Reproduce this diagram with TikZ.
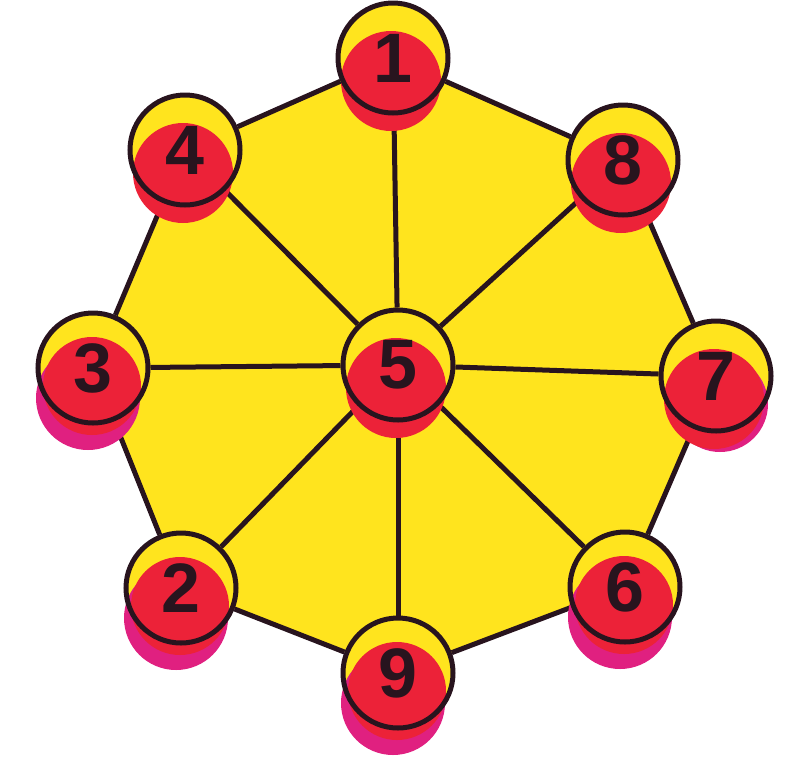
\documentclass[tikz,border=0pt]{standalone}
\usepackage{fontspec}
\setmainfont{Liberation Sans}
\pgfdeclarelayer{back}
\pgfdeclarelayer{mid}
\pgfsetlayers{back,mid,main}
\definecolor{yel}{RGB}{255,228,30}
\definecolor{rd}{RGB}{236,34,56}
\definecolor{mag}{RGB}{224,32,128}
\definecolor{ink}{RGB}{40,20,30}
\begin{document}
\begin{tikzpicture}[x=1pt,y=-1pt,
  ball/.style={circle,draw=ink,line width=5pt,minimum size=110pt,inner sep=0pt,
    font=\fontsize{70}{70}\selectfont\bfseries,text=ink},
  link/.style={draw=ink,line width=5pt}]
\useasboundingbox (0,0) rectangle (803,756);
\node[ball] (n1) at (393,58) {1};
\node[ball] (n8) at (623,160) {8};
\node[ball] (n7) at (716,376) {7};
\node[ball] (n6) at (625,587) {6};
\node[ball] (n9) at (398,673) {9};
\node[ball] (n2) at (181,588) {2};
\node[ball] (n3) at (93,368) {3};
\node[ball] (n4) at (185,150) {4};
\node[ball] (n5) at (398,365) {5};
\begin{pgfonlayer}{back}
  \fill[yel] (n1.center) -- (n8.center) -- (n7.center) -- (n6.center) -- (n9.center)
    -- (n2.center) -- (n3.center) -- (n4.center) -- cycle;
  \draw[link] (n1) -- (n8);
  \draw[link] (n8) -- (n7);
  \draw[link] (n7) -- (n6);
  \draw[link] (n6) -- (n9);
  \draw[link] (n9) -- (n2);
  \draw[link] (n2) -- (n3);
  \draw[link] (n3) -- (n4);
  \draw[link] (n4) -- (n1);
  \foreach \k in {1,2,3,4,6,7,8,9} \draw[link] (n5) -- (n\k);
\end{pgfonlayer}
\begin{pgfonlayer}{mid}
  \foreach \k in {1,2,3,4,5,6,7,8,9} \fill[yel] (n\k.center) circle[radius=55pt];
  \foreach \k in {2,3,6,9} \fill[mag] ([shift={(-5,30)}]n\k.center) circle[radius=52pt];
  \fill[mag] ([shift={(4,28)}]n7.center) circle[radius=48pt];
  \foreach \k in {2,3,6,9} \fill[rd] ([shift={(-1,18)}]n\k.center) circle[radius=49pt];
  \foreach \k in {1,4,5,7,8} \fill[rd] ([shift={(-2,23)}]n\k.center) circle[radius=50pt];
\end{pgfonlayer}
\end{tikzpicture}
\end{document}
